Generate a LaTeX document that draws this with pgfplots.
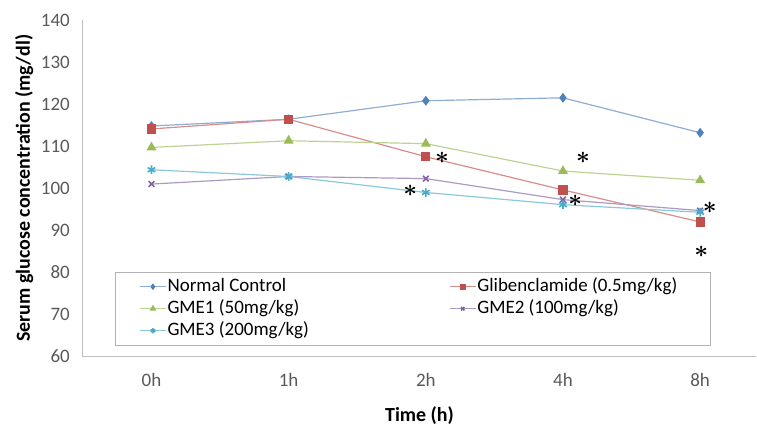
\documentclass[border=0pt]{standalone}
\usepackage{pgfplots}
\pgfplotsset{compat=1.18}
\usepackage{fontspec}
\setmainfont{Carlito}
\definecolor{cBlue}{HTML}{4F81BD}
\definecolor{cRed}{HTML}{C0504D}
\definecolor{cGreen}{HTML}{9BBB59}
\definecolor{cPurple}{HTML}{8064A2}
\definecolor{cCyan}{HTML}{4BACC6}
\definecolor{tickgray}{HTML}{595959}
\definecolor{axgray}{HTML}{BFBFBF}
\begin{document}
\begin{tikzpicture}
\begin{axis}[name=ax, scale only axis, width=337pt, height=168.5pt,
  xmin=-0.5, xmax=4.408, ymin=60, ymax=140,
  xtick={0,1,2,3,4}, xticklabels={0h,1h,2h,4h,8h},
  ytick={60,70,...,140},
  axis lines*=left,
  x axis line style={draw=axgray, line width=0.9pt},
  y axis line style={draw=axgray, line width=0.5pt},
  major tick length=0pt,
  tick label style={font=\fontsize{9.5}{11}\selectfont, text=tickgray},
  yticklabel style={xshift=-3pt},
  xticklabel style={yshift=-5pt},
  /pgf/number format/assume math mode=true,
  xlabel={Time (h)}, ylabel={Serum glucose concentration (mg/dl)},
  label style={font=\bfseries\fontsize{10}{12}\selectfont},
  xlabel shift=3pt, ylabel shift=-3pt,
  clip=false,
  legend columns=2, legend cell align=left,
  legend style={at={(rel axis cs:0.0475,0.252)}, anchor=north west,
    draw=gray!60, line width=0.5pt, inner xsep=12pt, inner ysep=2.5pt,
    font=\fontsize{9.5}{11}\selectfont, row sep=1.5pt,
    nodes={inner sep=0.5pt, text height=6.5pt, text depth=2pt}},
  legend image code/.code={\draw[mark repeat=2,mark phase=2,every mark/.append style={scale=0.6}] plot coordinates {(0pt,0pt) (6.5pt,0pt) (13pt,0pt)};},
  every axis plot/.append style={line width=0.6pt},
]
\addplot[color=cBlue!65, mark=diamond*, mark size=2pt, mark options={draw=cBlue, fill=cBlue}] coordinates {
(0,114.8) (1,116.4) (2,120.8) (3,121.5) (4,113.2)};
\addlegendentry{\makebox[140.5pt][l]{Normal Control}}
\addplot[color=cRed!65, mark=square*, mark size=2pt, mark options={draw=cRed, fill=cRed}] coordinates {
(0,114.1) (1,116.4) (2,107.5) (3,99.6) (4,92.0)};
\addlegendentry{\makebox[104pt][l]{Glibenclamide (0.5mg/kg)}}
\addplot[color=cGreen!65, mark=triangle*, mark size=2.3pt, mark options={draw=cGreen, fill=cGreen}] coordinates {
(0,109.7) (1,111.3) (2,110.6) (3,104.1) (4,101.9)};
\addlegendentry{GME1 (50mg/kg)}
\addplot[color=cPurple!65, mark=x, mark size=2pt, mark options={draw=cPurple, line width=0.8pt}] coordinates {
(0,101.0) (1,102.8) (2,102.3) (3,97.3) (4,94.7)};
\addlegendentry{GME2 (100mg/kg)}
\addplot[color=cCyan!65, mark=asterisk, mark size=2.2pt, mark options={draw=cCyan, line width=0.8pt}] coordinates {
(0,104.4) (1,102.8) (2,99.0) (3,96.1) (4,94.3)};
\addlegendentry{GME3 (200mg/kg)}
\node[font=\large\boldmath] at (axis cs:2.119,107.2) {$\ast$};
\node[font=\large\boldmath] at (axis cs:1.886,99.5) {$\ast$};
\node[font=\large\boldmath] at (axis cs:3.146,107.2) {$\ast$};
\node[font=\large\boldmath] at (axis cs:3.090,97.1) {$\ast$};
\node[font=\large\boldmath] at (axis cs:4.071,95.3) {$\ast$};
\node[font=\large\boldmath] at (axis cs:4.009,85.0) {$\ast$};
\end{axis}
\path ([xshift=-41.5pt,yshift=-34.5pt]ax.south west) rectangle ([yshift=10pt]ax.north east);
\end{tikzpicture}
\end{document}
